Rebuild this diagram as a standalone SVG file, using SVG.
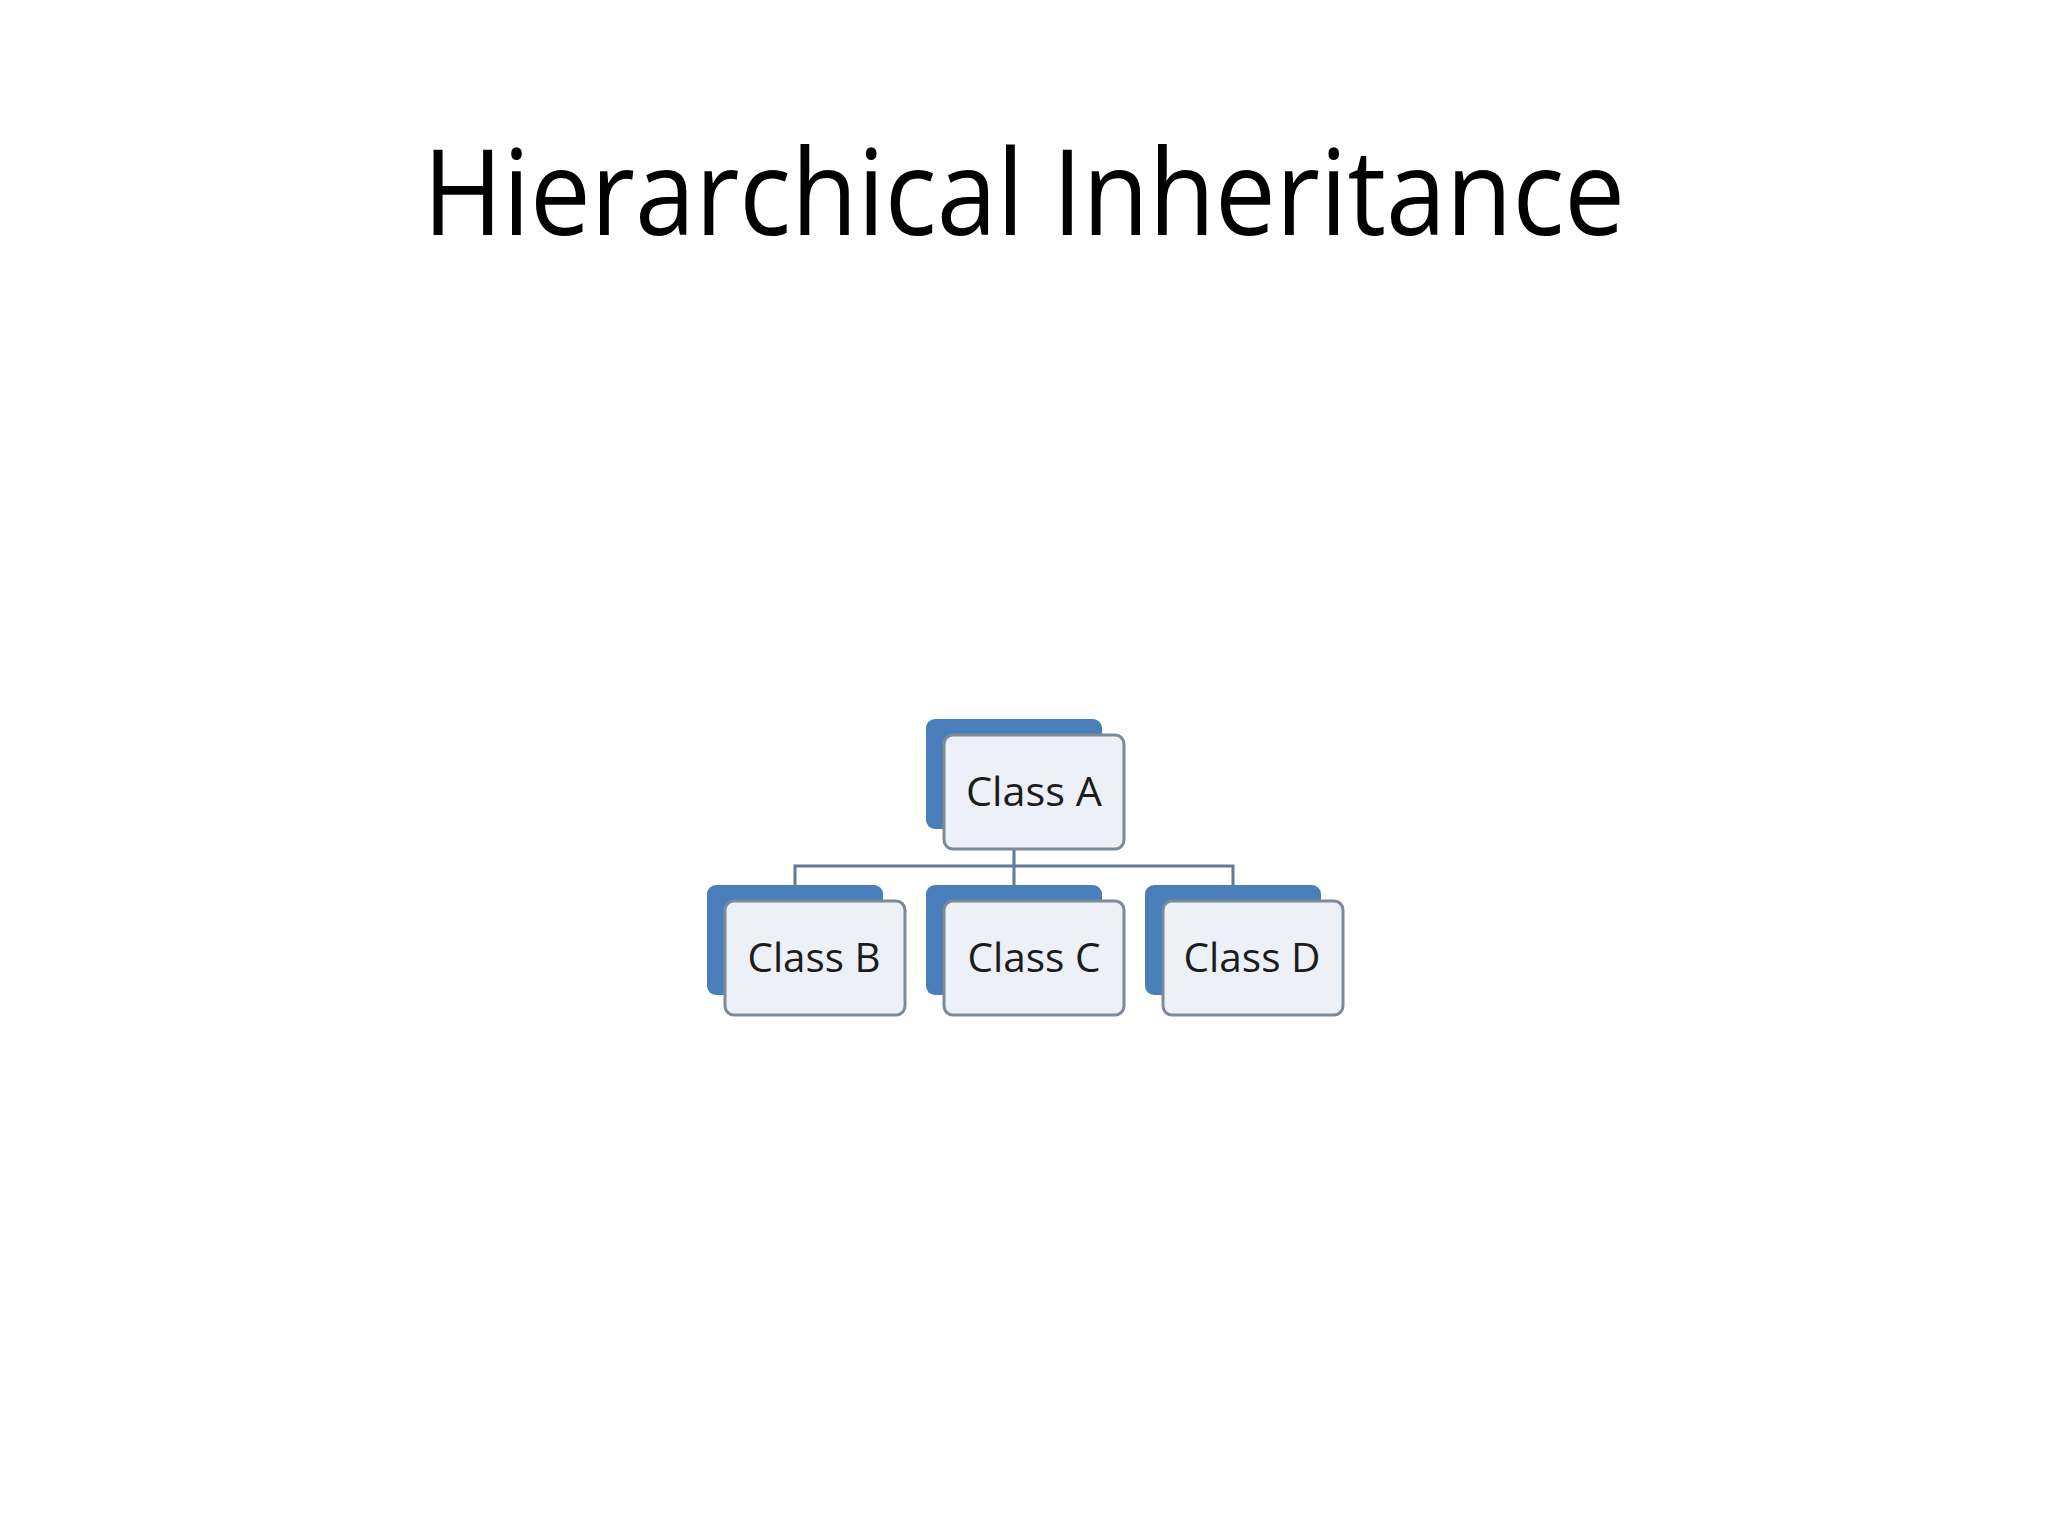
<svg xmlns="http://www.w3.org/2000/svg" width="2048" height="1536" viewBox="0 0 2048 1536">
<style>
.back{fill:#4a7ebb}
.front{fill:#eef0f7;stroke:#7d8a98;stroke-width:3}
.lbl{font-family:"Open Sans","Liberation Sans",sans-serif;font-size:41px;fill:#1c1c1c;text-anchor:middle}
.title{font-family:"Open Sans","Liberation Sans",sans-serif;font-size:119px;fill:#000;text-anchor:middle}
.conn{fill:none;stroke:#5f7b96;stroke-width:3}
</style>
<rect width="2048" height="1536" fill="#fff"/>
<text class="title" x="1024" y="235" textLength="1202" lengthAdjust="spacingAndGlyphs">Hierarchical Inheritance</text>
<g id="connectors">
<path class="conn" d="M1014 849V866M795 885V866H1233V885M1014 866V885"/>
</g>
<g id="classA">
<rect class="back" x="926" y="719" width="176" height="110" rx="9"/>
<rect class="front" x="944" y="735" width="180" height="114" rx="9"/>
<text class="lbl" x="1034" y="806" textLength="136" lengthAdjust="spacingAndGlyphs">Class A</text>
</g>
<g id="classB">
<rect class="back" x="707" y="885" width="176" height="110" rx="9"/>
<rect class="front" x="725" y="901" width="180" height="114" rx="9"/>
<text class="lbl" x="814" y="972" textLength="133" lengthAdjust="spacingAndGlyphs">Class B</text>
</g>
<g id="classC">
<rect class="back" x="926" y="885" width="176" height="110" rx="9"/>
<rect class="front" x="944" y="901" width="180" height="114" rx="9"/>
<text class="lbl" x="1034" y="972" textLength="133" lengthAdjust="spacingAndGlyphs">Class C</text>
</g>
<g id="classD">
<rect class="back" x="1145" y="885" width="176" height="110" rx="9"/>
<rect class="front" x="1163" y="901" width="180" height="114" rx="9"/>
<text class="lbl" x="1252" y="972" textLength="137" lengthAdjust="spacingAndGlyphs">Class D</text>
</g>
</svg>
